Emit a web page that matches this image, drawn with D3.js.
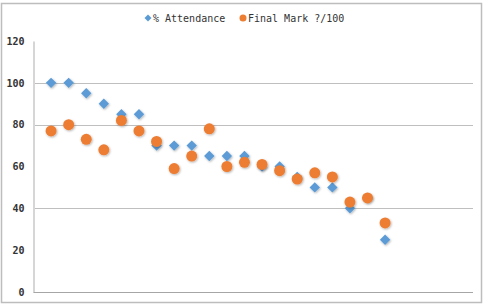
<!DOCTYPE html>
<html>
<head>
<meta charset="utf-8">
<script src="https://cdn.jsdelivr.net/npm/d3@7"></script>
<style>
  html, body { margin: 0; padding: 0; background: #fff; }
  svg { display: block; }
  text { font-family: "DejaVu Sans Mono", monospace; font-size: 10px; fill: #333; }
</style>
</head>
<body>
<svg id="chart" width="488" height="307"></svg>
<script>
// student number along x (1..20)
var students = [1, 2, 3, 4, 5, 6, 7, 8, 9, 10, 11, 12, 13, 14, 15, 16, 17, 18, 19, 20];
var attendance = [100, 100, 95, 90, 85, 85, 70, 70, 70, 65, 65, 65, 60, 60, 55, 50, 50, 40, 45, 25];
var finalMark = [77, 80, 73, 68, 82, 77, 72, 59, 65, 78, 60, 62, 61, 58, 54, 57, 55, 43, 45, 33];
var yTicks = [0, 20, 40, 60, 80, 100, 120];
var gridLines = [40, 80, 100]; // only these show in the picture
var seriesNames = ["% Attendance", "Final Mark ?/100"];

var svg = d3.select("#chart");
var blue = "#5b9bd5", orange = "#ed7d31";

// square diamond, r = half diagonal
function diamondPath(r) {
  return "M0," + (-r) + "L" + r + ",0L0," + r + "L" + (-r) + ",0Z";
}

// outer frame
svg.append("rect")
  .attr("x", 1.5).attr("y", 3.5).attr("width", 480).attr("height", 299)
  .attr("fill", "#fff").attr("stroke", "#bdbdbd").attr("stroke-width", 1.5);

var x = d3.scaleLinear().domain([0, 25]).range([33.5, 473]);
var y = d3.scaleLinear().domain([0, 120]).range([292, 41]);

// soft shadow like the spreadsheet markers
var defs = svg.append("defs");
var f = defs.append("filter").attr("id", "sh").attr("x", "-50%").attr("y", "-50%").attr("width", "200%").attr("height", "200%");
f.append("feDropShadow").attr("dx", 0.8).attr("dy", 1).attr("stdDeviation", 0.8)
  .attr("flood-color", "#000").attr("flood-opacity", 0.3);

// gridlines
svg.append("g").selectAll("line").data(gridLines).join("line")
  .attr("x1", x(0)).attr("x2", x(25))
  .attr("y1", function(d){ return Math.round(y(d)) + 0.5; })
  .attr("y2", function(d){ return Math.round(y(d)) + 0.5; })
  .attr("stroke", "#bfbfbf").attr("stroke-width", 1);

// y axis
var yAxis = d3.axisLeft(y).tickValues(yTicks).tickSize(0).tickPadding(9);
var gy = svg.append("g").attr("transform", "translate(" + x(0) + ",0)").call(yAxis);
gy.select(".domain").attr("stroke", "#d6d6d6").attr("stroke-width", 2);
gy.selectAll("text").attr("font-weight", "bold").attr("fill", "#333")
  .style("font-family", "'DejaVu Sans Mono', monospace").style("font-size", "10px");

// x axis line (no labels)
svg.append("line")
  .attr("x1", x(0)).attr("x2", x(25))
  .attr("y1", y(0) + 0.5).attr("y2", y(0) + 0.5)
  .attr("stroke", "#a6a6a6").attr("stroke-width", 1);

svg.append("g").attr("filter", "url(#sh)").selectAll("path").data(students).join("path")
  .attr("d", diamondPath(5.2))
  .attr("transform", function(d, i){ return "translate(" + x(d) + "," + y(attendance[i]) + ")"; })
  .attr("fill", blue);

svg.append("g").attr("filter", "url(#sh)").selectAll("circle").data(students).join("circle")
  .attr("cx", function(d){ return x(d); })
  .attr("cy", function(d, i){ return y(finalMark[i]); })
  .attr("r", 5.5)
  .attr("fill", orange);

// legend
var lg = svg.append("g").attr("transform", "translate(0,18)");
lg.append("path").attr("d", diamondPath(3.5))
  .attr("transform", "translate(148,0)").attr("fill", blue);
lg.append("text").attr("x", 153).attr("y", 3.5).text(seriesNames[0]);
lg.append("circle").attr("cx", 243).attr("cy", 0).attr("r", 3.5).attr("fill", orange);
lg.append("text").attr("x", 248).attr("y", 3.5).text(seriesNames[1]);
</script>
</body>
</html>
